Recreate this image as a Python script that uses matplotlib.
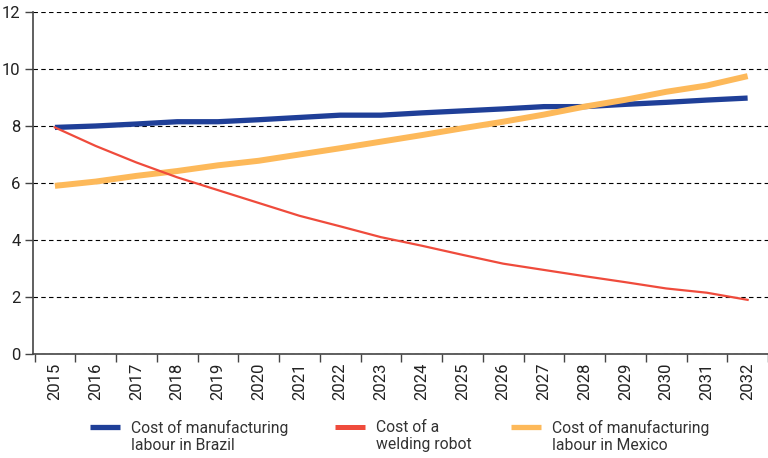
import matplotlib
matplotlib.use("Agg")
import matplotlib.pyplot as plt
import numpy as np
from matplotlib.lines import Line2D

plt.rcParams['font.family'] = ['Roboto', 'DejaVu Sans']

years = [str(y) for y in range(2015, 2033)]
brazil = [7.95, 8.0, 8.07, 8.15, 8.15, 8.22, 8.3, 8.38, 8.38, 8.46, 8.53, 8.6, 8.68, 8.68, 8.76, 8.83, 8.91, 8.98]
robot = [7.95, 7.3, 6.72, 6.2, 5.75, 5.3, 4.85, 4.48, 4.1, 3.8, 3.48, 3.17, 2.95, 2.73, 2.52, 2.3, 2.15, 1.9]
mexico = [5.9, 6.05, 6.25, 6.42, 6.62, 6.78, 7.0, 7.22, 7.45, 7.68, 7.92, 8.15, 8.4, 8.68, 8.92, 9.2, 9.42, 9.75]
labels = ["Cost of manufacturing\nlabour in Brazil", "Cost of a\nwelding robot", "Cost of manufacturing\nlabour in Mexico"]
colors = ['#1f3f98', '#ef4b3c', '#fdb95a']

W, H = 768, 458
fig = plt.figure(figsize=(W / 100, H / 100), dpi=100)
ax = fig.add_axes([33 / W, 1 - 354 / H, 1 - 33 / W, (354 - 12) / H])
x = np.arange(len(years))
ax.plot(x, brazil, color=colors[0], lw=3.8, solid_capstyle='butt', zorder=3)
ax.plot(x, robot, color=colors[1], lw=1.6, zorder=4)
ax.plot(x, mexico, color=colors[2], lw=4.3, solid_capstyle='butt', zorder=3)

ax.set_xlim(-0.538, 17.44)
ax.set_ylim(0, 12)
ax.set_yticks(range(0, 13, 2))
ax.yaxis.grid(True, linestyle=(0, (4, 3)), color='black', lw=0.8)
ax.set_axisbelow(True)
ax.set_xticks(x)
ax.set_xticklabels(years, rotation=90)
ax.set_xticks(np.arange(-0.5, len(years)), minor=True)
ax.tick_params(axis='x', which='major', length=0, pad=6, labelsize=12, labelcolor='#222222')
ax.tick_params(axis='x', which='minor', length=6, width=1, color='#444444')
ax.tick_params(axis='y', length=6, width=1, color='#444444', labelsize=12, pad=3, labelcolor='#222222')
for s in ['top', 'right']:
    ax.spines[s].set_visible(False)
for s in ['left', 'bottom']:
    ax.spines[s].set_color('#444444')
    ax.spines[s].set_linewidth(1.2)

# legend
hx = [90, 335, 511]
hw = [3.8, 3.6, 3.8]
ly = 1 - 427 / H
for i in range(3):
    fig.add_artist(Line2D([hx[i] / W, (hx[i] + 30) / W], [ly, ly], color=colors[i], lw=hw[i],
                          transform=fig.transFigure, solid_capstyle='butt'))
    fig.text((hx[i] + 41) / W, 1 - 420 / H, labels[i], fontsize=11.3, color='#333333',
             va='top', ha='left', linespacing=1.15)
fig.savefig('out.png', dpi=100)
